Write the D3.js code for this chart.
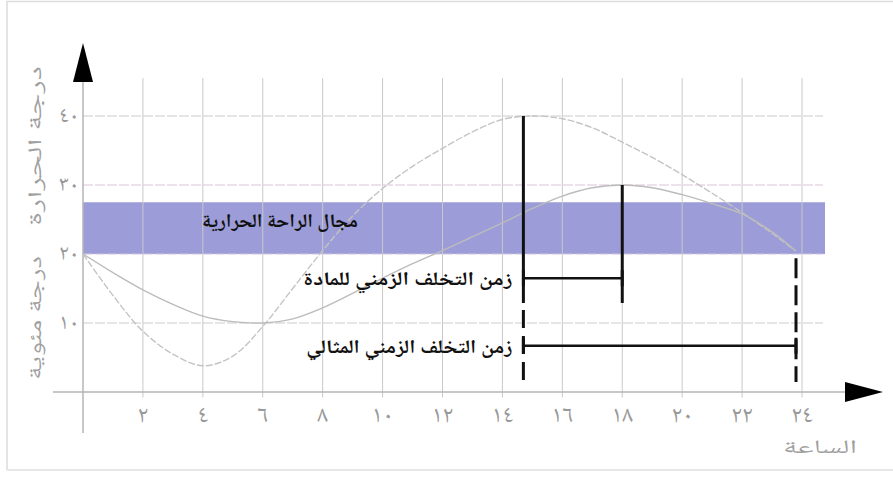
<!DOCTYPE html>
<html lang="ar">
<head>
<meta charset="utf-8">
<script src="https://cdn.jsdelivr.net/npm/d3@7"></script>
<style>
  html, body { margin: 0; padding: 0; background: #fff; }
  svg { display: block; }
  .ar { font-family: "Noto Naskh Arabic", "Noto Sans Arabic", "DejaVu Sans", sans-serif; }
</style>
</head>
<body>
<svg id="chart" width="893" height="481"></svg>
<script>
// Hours of the day at which the two temperature curves are sampled
const hours = [0, 1, 2, 3, 4, 5, 6, 7, 8, 9, 10, 11, 12, 13, 14, 15, 16, 17, 18, 19, 20, 21, 22, 23, 23.8];
// Outdoor air temperature (°C)
const outdoorTemp = [20, 14, 8.8, 5.5, 3.8, 5.2, 9.5, 15, 20.5, 25.5, 29.5, 32.7, 35.3, 37.7, 39.5, 40, 39.6, 38.3, 36.2, 34, 31.5, 28.8, 26, 23, 20.4];
// Temperature inside the material (°C)
const materialTemp = [20, 17.3, 14.8, 12.7, 11, 10.2, 10, 10.6, 12.2, 14.3, 16.5, 18.6, 20.5, 22.5, 24.5, 26.6, 28.4, 29.6, 30, 29.6, 28.6, 27.3, 25.8, 23.2, 20.4];

// Thermal comfort range (°C)
const comfortRange = [20, 27.5];

// Axis ticks
const xTicks = [2, 4, 6, 8, 10, 12, 14, 16, 18, 20, 22, 24];
const xTickLabels = ["٢", "٤", "٦", "٨", "١٠", "١٢", "١٤", "١٦", "١٨", "٢٠", "٢٢", "٢٤"];
const yTicks = [10, 20, 30, 40];
const yTickLabels = ["١٠", "٢٠", "٣٠", "٤٠"];

// Time-lag markers: hour of outdoor peak, hour of material peak, ideal lag end
const lagHours = [14.7, 18, 23.8];
const lagPeakValues = [40, 30, 19.4];
const lagLabels = ["زمن التخلف الزمني للمادة", "زمن التخلف الزمني المثالي"];
const lagLabelValues = [16.5, 6.7];

const comfortLabel = "مجال الراحة الحرارية";
const yTitleTop = "درجة الحرارة";
const yTitleBottom = "درجة مئوية";
const xTitle = "الساعة";

const svg = d3.select("#chart");
const x = d3.scaleLinear().domain([0, 24]).range([83, 802]);
const y = d3.scaleLinear().domain([0, 40]).range([392, 116]);

// frame
svg.append("rect").attr("x", 0).attr("y", 0).attr("width", 893).attr("height", 481).attr("fill", "#fff");
svg.append("path").attr("d", "M7,470 V1.5 H893").attr("fill", "none").attr("stroke", "#dcdcdc").attr("stroke-width", 1.5);
svg.append("line").attr("x1", 7).attr("x2", 893).attr("y1", 470).attr("y2", 470).attr("stroke", "#e6e6e6").attr("stroke-width", 2);

// comfort band
svg.append("rect")
  .attr("x", x(0)).attr("width", 825 - x(0))
  .attr("y", y(comfortRange[1])).attr("height", y(comfortRange[0]) - y(comfortRange[1]))
  .attr("fill", "#9c9cd8");

// vertical grid
svg.append("g").selectAll("line").data(xTicks).join("line")
  .attr("x1", d => x(d)).attr("x2", d => x(d))
  .attr("y1", y(45.5)).attr("y2", y(-0.8))
  .attr("stroke", "#c9c9c9").attr("stroke-width", 1);

// horizontal grid
const gridColors = { 10: "#cccccc", 20: "#cfc6dd", 30: "#dcc4d8", 40: "#cccccc" };
svg.append("g").selectAll("line").data(yTicks).join("line")
  .attr("x1", x(0)).attr("x2", 823)
  .attr("y1", d => y(d)).attr("y2", d => y(d))
  .attr("stroke", d => gridColors[d]).attr("stroke-width", 1.2)
  .attr("stroke-dasharray", "10,2");

// axes
svg.append("line").attr("x1", x(0)).attr("x2", x(0)).attr("y1", 80).attr("y2", 433)
  .attr("stroke", "#b5b5b5").attr("stroke-width", 1.5);
svg.append("line").attr("x1", 53).attr("x2", 848).attr("y1", y(0)).attr("y2", y(0))
  .attr("stroke", "#b5b5b5").attr("stroke-width", 1.5);
svg.append("path").attr("d", `M${x(0)},43 L${x(0) - 10},82 L${x(0) + 10},82 Z`).attr("fill", "#000");
svg.append("path").attr("d", `M883,${y(0)} L845,${y(0) - 10} L845,${y(0) + 10} Z`).attr("fill", "#000");

// tick labels
svg.append("g").selectAll("text").data(xTicks).join("text")
  .attr("class", "ar")
  .attr("x", d => x(d)).attr("y", 422)
  .attr("text-anchor", "middle").attr("font-size", 24).attr("fill", "#999999")
  .text((d, i) => xTickLabels[i]);
svg.append("g").selectAll("text").data(yTicks).join("text")
  .attr("class", "ar")
  .attr("x", 69).attr("y", d => y(d) + 6)
  .attr("text-anchor", "middle").attr("font-size", 22).attr("fill", "#999999")
  .text((d, i) => yTickLabels[i]);

// axis titles
svg.append("text").attr("class", "ar")
  .attr("transform", "translate(41,146) rotate(-90)")
  .attr("text-anchor", "middle").attr("font-size", 19).attr("fill", "#a0a0a0")
  .attr("textLength", 160).attr("lengthAdjust", "spacingAndGlyphs")
  .text(yTitleTop);
svg.append("text").attr("class", "ar")
  .attr("transform", "translate(41,318) rotate(-90)")
  .attr("text-anchor", "middle").attr("font-size", 19).attr("fill", "#a0a0a0")
  .attr("textLength", 124).attr("lengthAdjust", "spacingAndGlyphs")
  .text(yTitleBottom);
svg.append("text").attr("class", "ar")
  .attr("x", 820).attr("y", 453)
  .attr("text-anchor", "middle").attr("font-size", 19).attr("fill", "#a0a0a0")
  .attr("textLength", 74).attr("lengthAdjust", "spacingAndGlyphs")
  .text(xTitle);

// temperature curves
const line = (vals) => d3.line()
  .x((d, i) => x(hours[i])).y(d => y(d))
  .curve(d3.curveCatmullRom.alpha(0.5))(vals);
svg.append("path").attr("d", line(outdoorTemp))
  .attr("fill", "none").attr("stroke", "#c4c4c4").attr("stroke-width", 1.4)
  .attr("stroke-dasharray", "7,2");
svg.append("path").attr("d", line(materialTemp))
  .attr("fill", "none").attr("stroke", "#bcbcbc").attr("stroke-width", 1.4);

// comfort label
svg.append("text").attr("class", "ar")
  .attr("x", 280).attr("y", 227)
  .attr("text-anchor", "middle").attr("font-size", 19).attr("font-weight", "bold").attr("fill", "#111")
  .attr("textLength", 156).attr("lengthAdjust", "spacingAndGlyphs")
  .text(comfortLabel);

// time-lag markers
const g = svg.append("g").attr("stroke", "#111").attr("fill", "none");
const solidEnd = 12.9, dashStart = 11.9, dashEnd = 1.45;
// outdoor peak line
g.append("line").attr("x1", x(lagHours[0])).attr("x2", x(lagHours[0]))
  .attr("y1", y(lagPeakValues[0])).attr("y2", y(solidEnd)).attr("stroke-width", 3);
g.append("line").attr("x1", x(lagHours[0])).attr("x2", x(lagHours[0]))
  .attr("y1", y(dashStart)).attr("y2", y(dashEnd)).attr("stroke-width", 3)
  .attr("stroke-dasharray", "18,8");
// material peak line
g.append("line").attr("x1", x(lagHours[1])).attr("x2", x(lagHours[1]))
  .attr("y1", y(lagPeakValues[1])).attr("y2", y(solidEnd)).attr("stroke-width", 3);
// ideal lag line
g.append("line").attr("x1", x(lagHours[2])).attr("x2", x(lagHours[2]))
  .attr("y1", y(lagPeakValues[2])).attr("y2", y(dashEnd)).attr("stroke-width", 3)
  .attr("stroke-dasharray", "20,7");

// lag brackets
const brackets = [[lagHours[0], lagHours[1]], [lagHours[0], lagHours[2]]];
const labelWidths = [209, 206];
brackets.forEach((b, i) => {
  const yy = y(lagLabelValues[i]);
  g.append("line").attr("x1", x(b[0])).attr("x2", x(b[1]))
    .attr("y1", yy).attr("y2", yy).attr("stroke-width", 2.5);
  [b[0], b[1]].forEach(h => {
    g.append("line").attr("x1", x(h)).attr("x2", x(h))
      .attr("y1", yy - 8).attr("y2", yy + 8).attr("stroke-width", 3);
  });
  svg.append("text").attr("class", "ar")
    .attr("x", x(b[0]) - 11).attr("y", yy + 7)
    .attr("text-anchor", "end").attr("font-size", 19).attr("font-weight", "bold").attr("fill", "#111")
    .attr("textLength", labelWidths[i]).attr("lengthAdjust", "spacingAndGlyphs")
    .text(lagLabels[i]);
});
</script>
</body>
</html>
